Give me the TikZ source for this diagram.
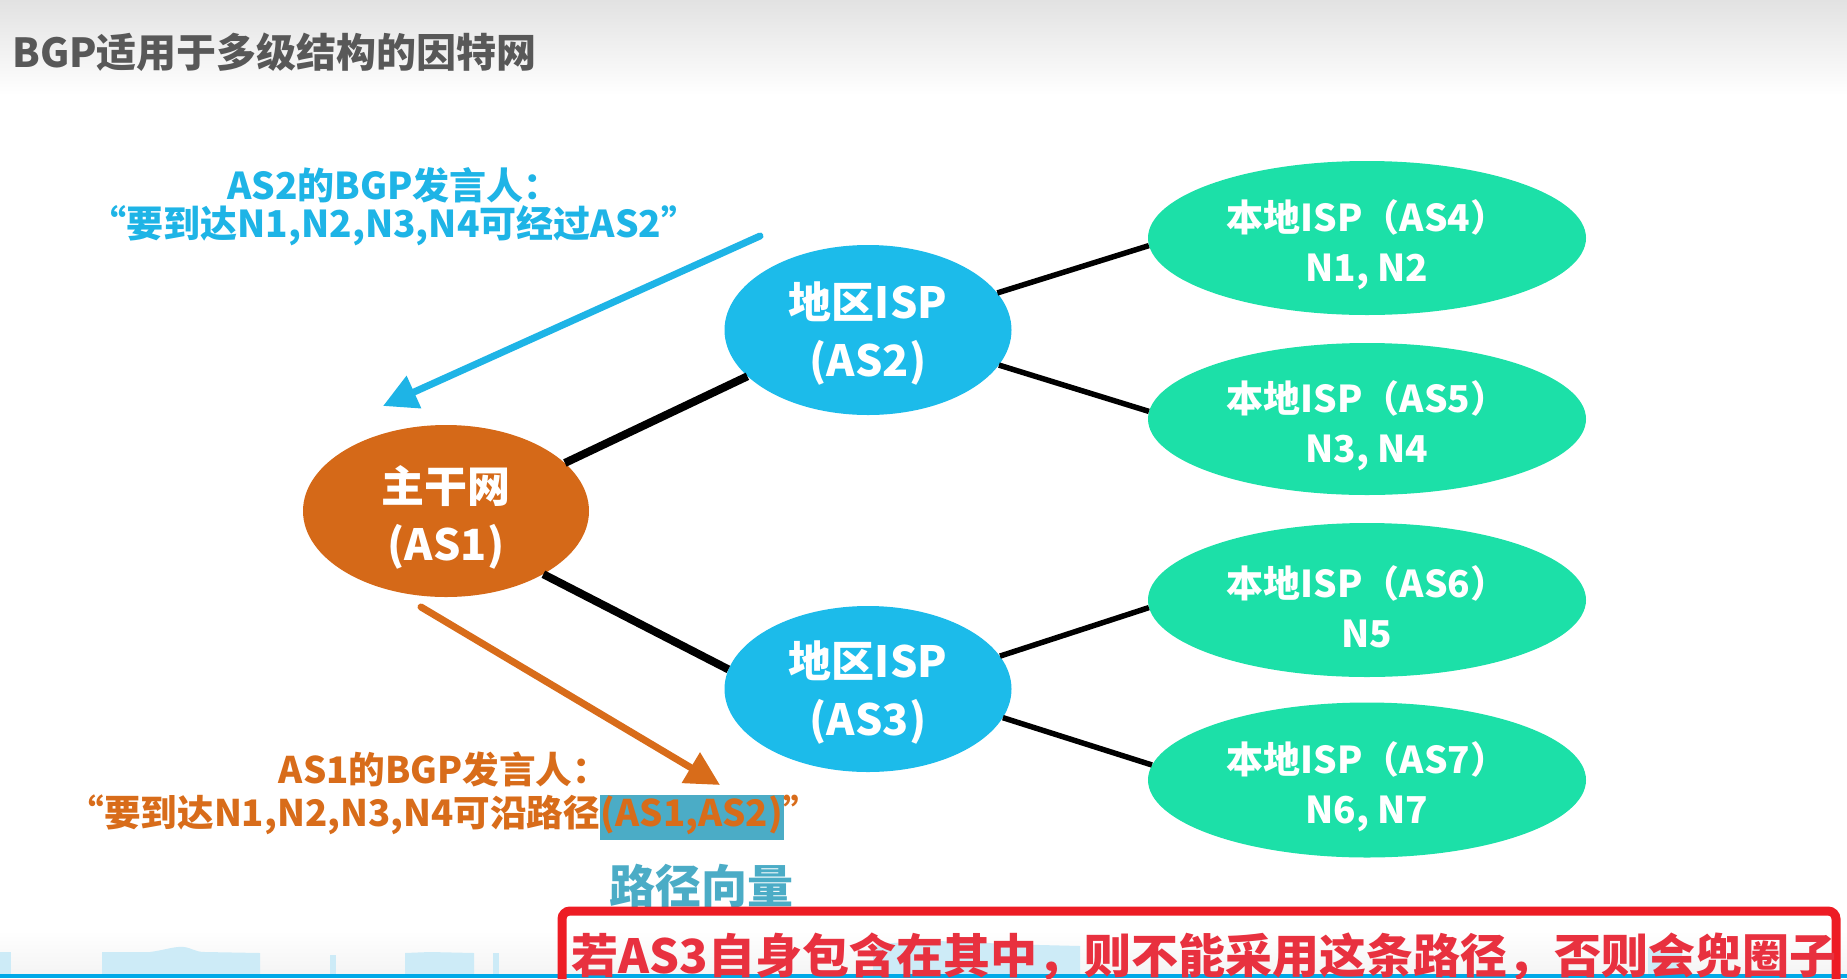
\documentclass[tikz,border=0pt]{standalone}
\usepackage{fontspec}
\setmainfont{Noto Sans CJK SC}
\usetikzlibrary{shapes.geometric,arrows.meta}
\definecolor{orangeE}{RGB}{213,105,24}
\definecolor{blueE}{RGB}{28,187,234}
\definecolor{greenE}{RGB}{28,224,168}
\definecolor{blueT}{RGB}{30,180,230}
\definecolor{orangeT}{RGB}{216,108,26}
\definecolor{tealH}{RGB}{75,172,198}
\definecolor{redB}{RGB}{237,28,36}
\definecolor{redT}{RGB}{232,49,63}
\definecolor{titleG}{RGB}{88,88,88}
\definecolor{skyB}{RGB}{205,235,247}
\definecolor{lineB}{RGB}{0,169,232}
\begin{document}
\begin{tikzpicture}[x=1pt,y=-1pt,
  ell/.style={ellipse, draw=none, inner sep=0pt},
  etext/.style={text=white, align=center, font=\bfseries\fontsize{43}{58}\selectfont, inner sep=0pt},
  gtext/.style={text=white, align=center, font=\bfseries\fontsize{37}{50}\selectfont, inner sep=0pt},
  thick link/.style={line width=8pt, black},
  thin link/.style={line width=5.5pt, black},
  lab/.style={align=center, inner sep=0pt},
]
\useasboundingbox (0,0) rectangle (1847,978);
\clip (0,0) rectangle (1847,978);
% background
\shade[top color={rgb,255:red,226;green,226;blue,226}, bottom color=white] (0,0) rectangle (1847,95);
\shade[top color=white, bottom color={rgb,255:red,244;green,244;blue,244}] (0,930) rectangle (1847,975);
% skyline
\fill[skyB] (0,952) rectangle (11,975);
\fill[skyB] (102,952) -- (150,952) .. controls (165,950) and (175,946) .. (184,947) .. controls (192,948) and (195,952) .. (205,952) -- (260,953) -- (260,975) -- (102,975) -- cycle;
\fill[skyB] (330,955) rectangle (336,975);
\fill[skyB] (405,953) -- (430,952) -- (474,953) -- (474,975) -- (405,975) -- cycle;
\fill[skyB] (493,953) rectangle (499,975);
\fill[skyB] (873,946) .. controls (900,940) and (960,940) .. (1000,944) -- (1080,946) -- (1080,975) -- (873,975) -- cycle;
\fill[skyB] (1648,948) rectangle (1682,975);
\fill[lineB] (0,974) rectangle (1847,978);

% title
\node[anchor=west, inner sep=0pt, text=titleG, font=\bfseries\fontsize{40}{42}\selectfont] (title) at (12,52) {BGP适用于多级结构的因特网};

% ellipses
\node[ell, fill=orangeE, minimum width=286pt, minimum height=172pt] (as1) at (446,511) {};
\node[ell, fill=blueE, minimum width=287pt, minimum height=170pt] (as2) at (868,330) {};
\node[ell, fill=blueE, minimum width=287pt, minimum height=166pt] (as3) at (868,689) {};
\node[ell, fill=greenE, minimum width=438pt, minimum height=154pt] (as4) at (1367,238) {};
\node[ell, fill=greenE, minimum width=438pt, minimum height=152pt] (as5) at (1367,419) {};
\node[ell, fill=greenE, minimum width=438pt, minimum height=154pt] (as6) at (1367,600) {};
\node[ell, fill=greenE, minimum width=438pt, minimum height=155pt] (as7) at (1367,780) {};

% links
\draw[thick link] (as1.22) -- (as2.201);
\draw[thick link] (as1.-33) -- (as3.172);
\draw[thin link] (as2.16) -- (as4.182);
\draw[thin link] (as2.-15) -- (as5.178);
\draw[thin link] (as3.14) -- (as6.182);
\draw[thin link] (as3.-12) -- (as7.176);

% ellipse texts
\node[etext] (as1t) at ([yshift=-6pt]as1.center) {主干网\\(AS1)};
\node[etext] (as2t) at ([yshift=-4pt]as2.center) {地区ISP\\(AS2)};
\node[etext] (as3t) at ([yshift=-4pt]as3.center) {地区ISP\\(AS3)};
\node[gtext] (as4t) at ([yshift=-7pt]as4.center) {本地ISP（AS4）\\N1, N2};
\node[gtext] (as5t) at ([yshift=-7pt]as5.center) {本地ISP（AS5）\\N3, N4};
\node[gtext] (as6t) at ([yshift=-7pt]as6.center) {本地ISP（AS6）\\N5};
\node[gtext] (as7t) at ([yshift=-7pt]as7.center) {本地ISP（AS7）\\N6, N7};

% blue announcement
\node[lab, text=blueT, font=\bfseries\fontsize{37}{38}\selectfont] (blab) at (394,207) {AS2的BGP发言人：\\“要到达N1,N2,N3,N4可经过AS2”};
\coordinate (bs) at (760,236);
\coordinate (be) at (383,406);
\draw[blueT, line width=7pt, line cap=round, -{Triangle[length=34pt,width=34pt]}] (bs) -- (be);

% orange announcement
\coordinate (os) at (421,607);
\coordinate (oe) at (720,785);
\draw[orangeT, line width=7pt, line cap=round, -{Triangle[length=34pt,width=34pt]}] (os) -- (oe);
\setlength{\fboxsep}{1pt}
\node[lab, text=orangeT, font=\bfseries\fontsize{36.6}{43}\selectfont] (olab) at (444,796) {AS1的BGP发言人：\\“要到达N1,N2,N3,N4可沿路径\colorbox{tealH}{\strut(AS1,AS2)}”};
\node[inner sep=0pt, text=tealH, font=\bfseries\fontsize{46}{48}\selectfont] (pv) at (701,886) {路径向量};

% red note box
\draw[redB, line width=9pt, rounded corners=8pt] (562,911) rectangle (1836,990);
\node[inner sep=0pt, text=redT, font=\bfseries\fontsize{47}{50}\selectfont] (note) at (1204,957) {若AS3自身包含在其中，则不能采用这条路径，否则会兜圈子};
\end{tikzpicture}
\end{document}
